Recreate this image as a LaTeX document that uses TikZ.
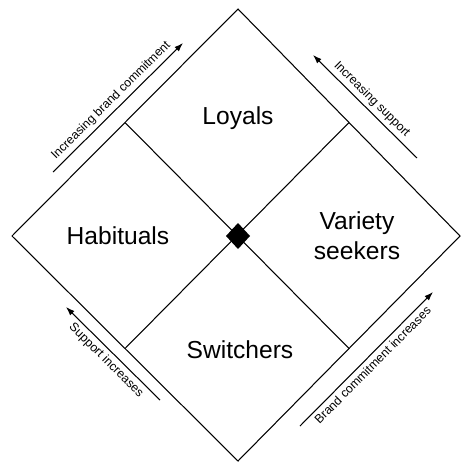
\documentclass[tikz,border=0pt]{standalone}
\usepackage{fontspec}
\setmainfont{Liberation Sans}
\usetikzlibrary{calc, arrows.meta}

\begin{document}
\begin{tikzpicture}[
  x=0.02cm, y=-0.02cm, line width=0.6pt,
  quad/.style={font=\fontsize{14}{17}\selectfont, align=center},
  axislabel/.style={font=\fontsize{7}{8}\selectfont, inner sep=2pt},
  axisarrow/.style={-{Latex[length=5pt, width=3.5pt]}},
]
  \useasboundingbox (0,0) rectangle (462,463);

  \coordinate (T) at (238,9);
  \coordinate (L) at (12,236);
  \coordinate (R) at (460,236);
  \coordinate (B) at (238,461);
  \coordinate (O) at (238,236);

  % 外框
  \draw (T) -- (R) -- (B) -- (L) -- cycle;

  % 分隔线
  \coordinate (TL) at ($(T)!0.5!(L)$);
  \coordinate (TR) at ($(T)!0.5!(R)$);
  \coordinate (BL) at ($(B)!0.5!(L)$);
  \coordinate (BR) at ($(B)!0.5!(R)$);
  \draw (TL) -- (BR);
  \draw (TR) -- (BL);

  % 中心
  \fill (O) ++(0,-13) -- ++(12,13) -- ++(-12,13) -- ++(-12,-13) -- cycle;

  % 四个区域
  \node[quad] (loyals)   at (238,118) {Loyals};
  \node[quad] (habit)    at (118,236) {Habituals};
  \node[quad] (variety)  at (357,236) {Variety\\seekers};
  \node[quad] (switch)   at (240,350) {Switchers};

  % 坐标箭头
  \coordinate (a1) at (53,172);  \coordinate (a2) at (183,43);
  \coordinate (b1) at (417,158); \coordinate (b2) at (313,55);
  \coordinate (c1) at (160,400); \coordinate (c2) at (66,307);
  \coordinate (d1) at (300,426); \coordinate (d2) at (433,292);

  \draw[axisarrow] (a1) -- node[axislabel, sloped, above] {Increasing brand commitment} (a2);
  \draw[axisarrow] (b1) -- node[axislabel, sloped, above] {Increasing support} (b2);
  \draw[axisarrow] (c1) -- node[axislabel, sloped, below] {Support increases} (c2);
  \draw[axisarrow] (d1) -- node[axislabel, sloped, below] {Brand commitment increases} (d2);
\end{tikzpicture}
\end{document}
